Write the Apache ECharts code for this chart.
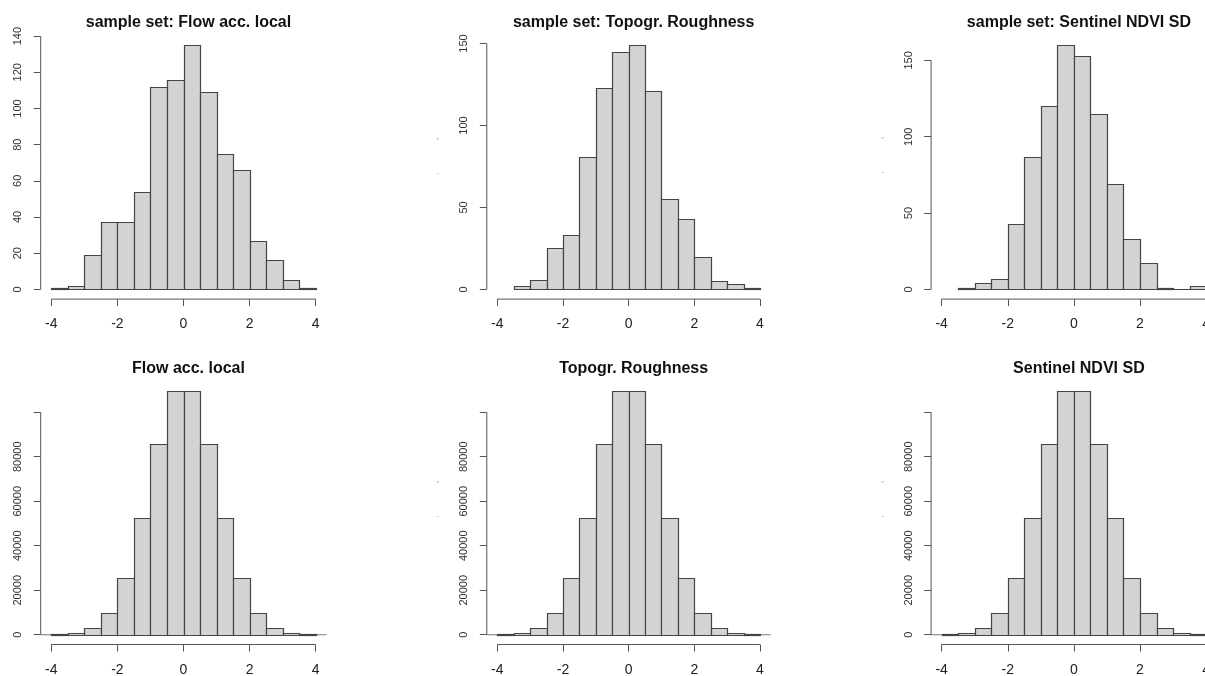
<!DOCTYPE html>
<html>
<head>
<meta charset="utf-8">
<script src="https://cdn.jsdelivr.net/npm/echarts@6/dist/echarts.min.js"></script>
<style>
html,body{margin:0;padding:0;background:#fff;}
#chart{width:1205px;height:676px;}
</style>
</head>
<body>
<div id="chart"></div>
<script>
// ---- data ----
const panelTitles = [
  'sample set: Flow acc. local', 'sample set: Topogr. Roughness', 'sample set: Sentinel NDVI SD',
  'Flow acc. local', 'Topogr. Roughness', 'Sentinel NDVI SD'
];
const binStarts = [-4, -3.5, -3, -2.5, -2, -1.5, -1, -0.5, 0, 0.5, 1, 1.5, 2, 2.5, 3, 3.5];
const binWidth = 0.5;
const countsSampleFlow = [1, 2, 19, 37, 37, 54, 112, 116, 135, 109, 75, 66, 27, 16, 5, 1];
const countsSampleRough = [null, 2, 6, 25, 33, 81, 123, 145, 149, 121, 55, 43, 20, 5, 3, 1];
const countsSampleNdvi = [null, 1, 4, 7, 43, 87, 120, 160, 153, 115, 69, 33, 17, 1, 0, 2];
const countsFullFlow = [300, 700, 2850, 9600, 25300, 52600, 85700, 109650, 109650, 85700, 52600, 25300, 9600, 2850, 700, 300];
const countsFullRough = [300, 700, 2850, 9600, 25300, 52600, 85700, 109650, 109650, 85700, 52600, 25300, 9600, 2850, 700, 300];
const countsFullNdvi = [300, 700, 2850, 9600, 25300, 52600, 85700, 109650, 109650, 85700, 52600, 25300, 9600, 2850, 700, 300];
const xTicks = [-4, -2, 0, 2, 4];
const yTicksFlowSample = [0, 20, 40, 60, 80, 100, 120, 140];
const yTicksSample150 = [0, 50, 100, 150];
const yTicksFull = [0, 20000, 40000, 60000, 80000, 100000];
const yLabelsFull = [0, 20000, 40000, 60000, 80000];

const panelCounts = [countsSampleFlow, countsSampleRough, countsSampleNdvi, countsFullFlow, countsFullRough, countsFullNdvi];
const panelYTicks = [yTicksFlowSample, yTicksSample150, yTicksSample150, yTicksFull, yTicksFull, yTicksFull];
const panelYLabels = [yTicksFlowSample, yTicksSample150, yTicksSample150, yLabelsFull, yLabelsFull, yLabelsFull];
const panelBaseline = [false, false, false, true, true, true];

// ---- layout ----
const colLeft = [40.7, 486.8, 931.1];
const colWidth = [285.6, 283.7, 285.6];
const rowTop = [35.4, 381];
const rowHeight = [263.7, 263.5];
const FONT = '"Liberation Sans", Arial, sans-serif';
const AX = '#555555';

const chart = echarts.init(document.getElementById('chart'), null, {renderer: 'canvas'});

const grids = [], xAxes = [], yAxes = [], series = [], titles = [];
const xMin = -4 - 0.04 * 8, xMax = 4 + 0.04 * 8;

for (let i = 0; i < 6; i++) {
  const r = Math.floor(i / 3), c = i % 3;
  const counts = panelCounts[i];
  const maxC = Math.max.apply(null, counts.filter(v => v != null));
  const yMin = -0.04 * maxC, yMax = 1.04 * maxC;
  grids.push({left: colLeft[c], top: rowTop[r], width: colWidth[c], height: rowHeight[r],
    containLabel: false, outerBoundsMode: 'none'});
  xAxes.push({
    type: 'value', gridIndex: i, min: xMin, max: xMax, position: 'bottom',
    axisLine: {show: false, onZero: false}, splitLine: {show: false},
    axisTick: {show: true, inside: false, length: 7, customValues: xTicks, lineStyle: {color: AX, width: 1}},
    axisLabel: {show: true, customValues: xTicks, margin: r === 0 ? 18 : 19, fontSize: 14, color: '#222', fontFamily: FONT,
      hideOverlap: false, formatter: v => String(v)}
  });
  yAxes.push({
    type: 'value', gridIndex: i, min: yMin, max: yMax, position: 'left',
    axisLine: {show: false, onZero: false}, splitLine: {show: false},
    axisTick: {show: true, inside: false, length: 7, customValues: panelYTicks[i], lineStyle: {color: AX, width: 1}},
    axisLabel: {show: true, customValues: panelYLabels[i], rotate: 90, margin: 17, fontSize: 11, color: '#333', fontFamily: FONT,
      formatter: v => String(v)}
  });
  const data = [];
  binStarts.forEach((s, k) => {
    if (counts[k] != null) data.push([s, s + binWidth, counts[k]]);
  });
  if (panelBaseline[i]) {
    series.push({
      type: 'line', xAxisIndex: i, yAxisIndex: i, data: [[xMin, 0], [xMax, 0]],
      symbol: 'none', silent: true, clip: false, z: 1,
      lineStyle: {color: '#777', width: 1.2}
    });
  }
  series.push({
    type: 'custom', xAxisIndex: i, yAxisIndex: i, data: data, clip: false, silent: true, z: 2,
    encode: {x: [0, 1], y: 2},
    renderItem: function (params, api) {
      const p0 = api.coord([api.value(0), api.value(2)]);
      const p1 = api.coord([api.value(1), 0]);
      const x0 = Math.round(p0[0]) + 0.5, x1 = Math.round(p1[0]) + 0.5;
      const y0 = Math.round(p0[1]) + 0.5, y1 = Math.round(p1[1]) + 0.5;
      return {
        type: 'rect',
        shape: {x: x0, y: y0, width: x1 - x0, height: y1 - y0},
        style: {fill: '#d3d3d3', stroke: '#444444', lineWidth: 1.2}
      };
    }
  });
  // R-style axis lines (span first to last tick)
  const yt = panelYTicks[i];
  series.push({
    type: 'line', xAxisIndex: i, yAxisIndex: i, data: [[xTicks[0], yMin], [xTicks[xTicks.length - 1], yMin]],
    symbol: 'none', silent: true, clip: false, z: 3, lineStyle: {color: AX, width: 1}
  });
  series.push({
    type: 'line', xAxisIndex: i, yAxisIndex: i, data: [[xMin, yt[0]], [xMin, yt[yt.length - 1]]],
    symbol: 'none', silent: true, clip: false, z: 3, lineStyle: {color: AX, width: 1}
  });
  titles.push({
    text: panelTitles[i], left: colLeft[c] + colWidth[c] / 2, textAlign: 'center',
    top: r === 0 ? 10 : 356,
    textStyle: {fontSize: 16, fontWeight: 'bold', color: '#111', fontFamily: FONT}
  });
}

const marks = [];
[[437.7, 142.7, 485.7], [882.7, 142.3, 485.7]].forEach(p => {
  [p[1], p[2]].forEach(y0 => {
    marks.push({type: 'text', left: p[0] - 1, top: y0 - 6, silent: true,
      style: {text: '\u2019', fill: '#888', font: '9px ' + FONT}});
    marks.push({type: 'text', left: p[0] - 1, top: y0 + 24, silent: true,
      style: {text: '.', fill: '#999', font: '9px ' + FONT}});
  });
});

chart.setOption({
  backgroundColor: '#ffffff',
  animation: false,
  title: titles,
  grid: grids,
  xAxis: xAxes,
  yAxis: yAxes,
  series: series,
  graphic: marks
});
</script>
</body>
</html>
